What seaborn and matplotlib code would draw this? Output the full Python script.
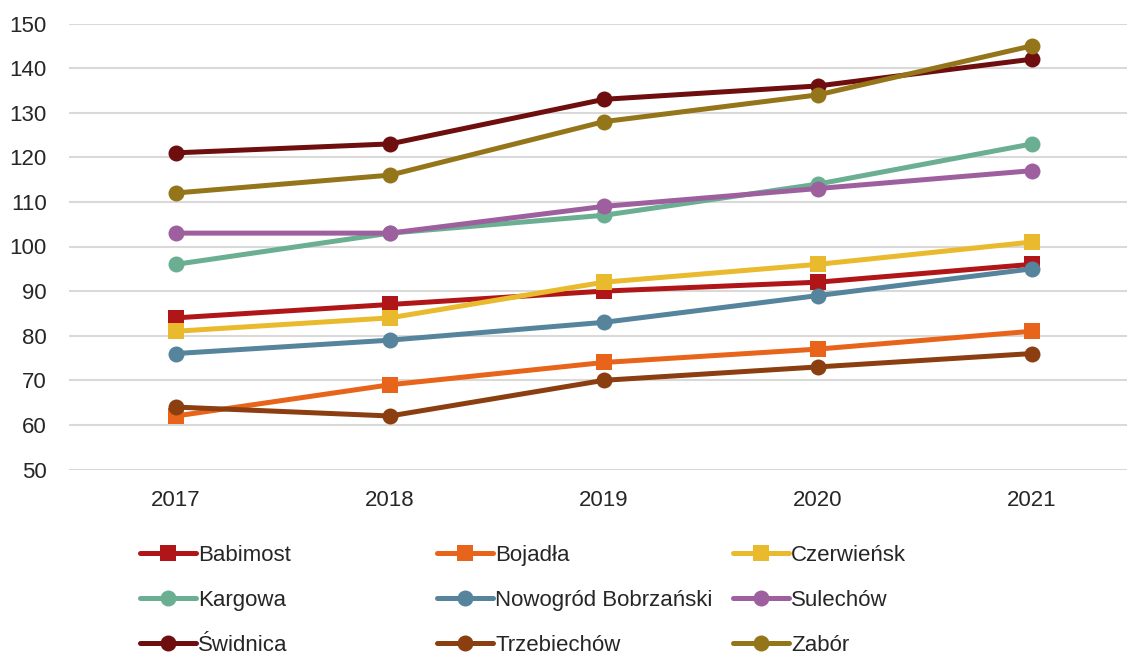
import matplotlib
matplotlib.use('Agg')
import matplotlib.pyplot as plt
from matplotlib.lines import Line2D
import numpy as np
import pandas as pd
import seaborn as sns

years = [2017, 2018, 2019, 2020, 2021]
gminy = ['Babimost', 'Bojadła', 'Czerwieńsk', 'Kargowa', 'Nowogród Bobrzański',
         'Sulechów', 'Świdnica', 'Trzebiechów', 'Zabór']

babimost = [84, 87, 90, 92, 96]
bojadla = [62, 69, 74, 77, 81]
czerwiensk = [81, 84, 92, 96, 101]
kargowa = [96, 103, 107, 114, 123]
nowogrod = [76, 79, 83, 89, 95]
sulechow = [103, 103, 109, 113, 117]
swidnica = [121, 123, 133, 136, 142]
trzebiechow = [64, 62, 70, 73, 76]
zabor = [112, 116, 128, 134, 145]

colors = ['#B01518', '#E8641A', '#E9B92E', '#6AAF91', '#55849C',
          '#9E5F9F', '#6E0E0E', '#8B3E10', '#94751A']
markers = ['s', 's', 's', 'o', 'o', 'o', 'o', 'o', 'o']

values = [babimost, bojadla, czerwiensk, kargowa, nowogrod,
          sulechow, swidnica, trzebiechow, zabor]
rows = []
for g, vals in zip(gminy, values):
    for y, v in zip(years, vals):
        rows.append({'rok': y, 'wartosc': v, 'gmina': g})
df = pd.DataFrame(rows)

sns.set_style('white')
plt.rcParams['font.family'] = ['Liberation Sans', 'DejaVu Sans']

fig = plt.figure(figsize=(11.27, 6.55), dpi=100)
ax = fig.add_axes([69 / 1127, 1 - 469.5 / 655, 1 - 69 / 1127, (469.5 - 23.5) / 655])

sns.lineplot(data=df, x='rok', y='wartosc', hue='gmina', style='gmina',
             hue_order=gminy, style_order=gminy,
             palette=dict(zip(gminy, colors)), markers=dict(zip(gminy, markers)),
             dashes=False, linewidth=3.6, markersize=11.5, markeredgewidth=0,
             legend=False, ax=ax)

ax.set_xlim(2016.5, 2016.5 + 1058 / 214)
ax.set_ylim(50, 150)
ax.set_xticks(years)
ax.set_yticks(range(50, 151, 10))
ax.set_xlabel('')
ax.set_ylabel('')
ax.grid(axis='y', color='#D9D9D9', linewidth=1.5)
ax.set_axisbelow(True)
for s in ax.spines.values():
    s.set_visible(False)
ax.tick_params(axis='both', length=0, labelsize=16, colors='#262626')
ax.tick_params(axis='y', pad=16)
ax.tick_params(axis='x', pad=15)

handles = [Line2D([], [], color=c, marker=m, linewidth=3.6, markersize=11.5,
                  markeredgewidth=0) for c, m in zip(colors, markers)]
col_x = [140 / 1127, 437 / 1127, 733 / 1127]
for i in range(3):
    idx = [i, i + 3, i + 6]
    leg = fig.legend([handles[j] for j in idx], [gminy[j] for j in idx],
                     loc='upper left', bbox_to_anchor=(col_x[i], 1 - 545 / 655),
                     frameon=False, fontsize=16, handlelength=2.5,
                     handletextpad=0.12, labelspacing=1.07, borderaxespad=0,
                     borderpad=0)
    for t in leg.get_texts():
        t.set_color('#262626')

fig.savefig('out.png', dpi=100)
